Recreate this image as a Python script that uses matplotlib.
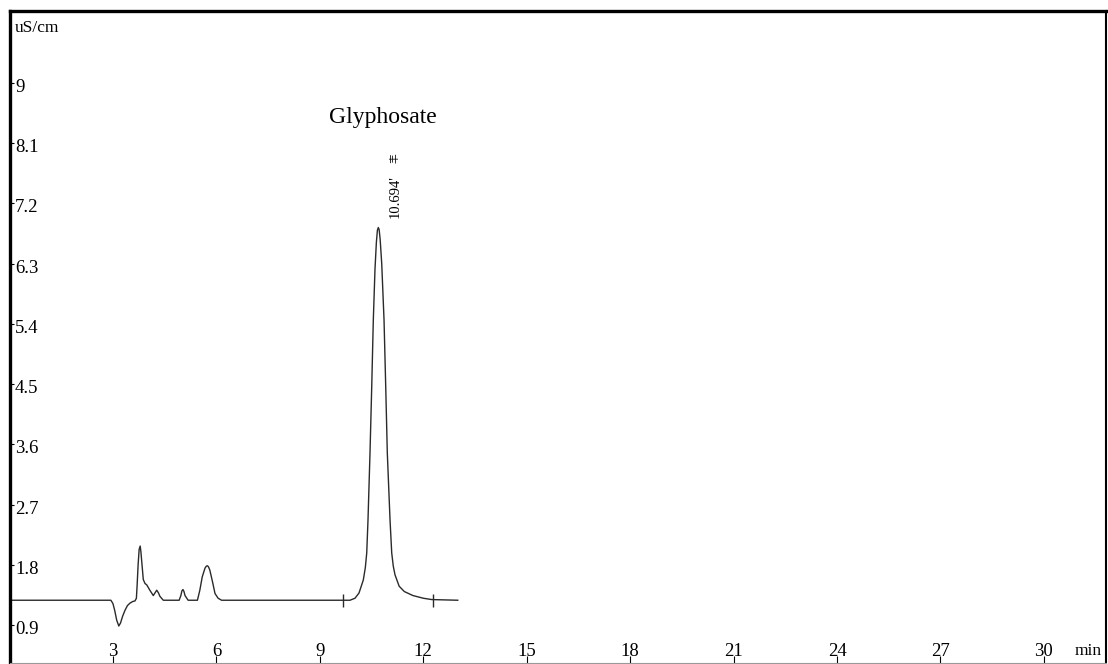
import matplotlib
matplotlib.use('Agg')
import matplotlib.pyplot as plt
from matplotlib.transforms import ScaledTranslation

# chromatogram trace (min, uS/cm)
time_min = [0.0, 2.94, 3.00, 3.05, 3.11, 3.17, 3.22, 3.28, 3.35, 3.42, 3.49, 3.57, 3.64,
            3.68, 3.70, 3.73, 3.76, 3.79, 3.81, 3.84, 3.88, 3.93, 3.98, 4.07, 4.17,
            4.22, 4.27, 4.32, 4.36, 4.46,
            4.92, 4.97, 5.00, 5.03, 5.06, 5.09, 5.18,
            5.45, 5.52, 5.59, 5.67, 5.71, 5.74, 5.77, 5.81, 5.89, 5.96, 6.05, 6.15,
            9.875, 10.02, 10.136, 10.261, 10.32, 10.36, 10.397, 10.455, 10.505, 10.551,
            10.60, 10.64, 10.67, 10.696, 10.72, 10.75, 10.795, 10.862, 10.911, 10.957,
            11.036, 11.085, 11.13, 11.18, 11.30, 11.45, 11.70, 12.0, 12.245, 13.0]
signal = [1.27, 1.27, 1.22, 1.12, 0.97, 0.885, 0.93, 1.03, 1.12, 1.19, 1.225, 1.25, 1.26,
          1.30, 1.48, 1.80, 2.03, 2.08, 2.00, 1.82, 1.58, 1.52, 1.50, 1.42, 1.34,
          1.38, 1.42, 1.38, 1.33, 1.27,
          1.27, 1.34, 1.41, 1.43, 1.40, 1.34, 1.27,
          1.27, 1.42, 1.62, 1.75, 1.78, 1.785, 1.77, 1.72, 1.54, 1.37, 1.30, 1.27,
          1.27, 1.30, 1.378, 1.572, 1.76, 1.976, 2.469, 3.47, 4.461, 5.458,
          6.22, 6.62, 6.80, 6.84, 6.81, 6.66, 6.30, 5.458, 4.461, 3.47,
          2.469, 1.976, 1.78, 1.65, 1.48, 1.40, 1.34, 1.30, 1.28, 1.27]

baseline_level = 1.27
integration_marks = [9.67, 12.28]
peak_time = 10.694
peak_name = 'Glyphosate'

x_ticks = [3, 6, 9, 12, 15, 18, 21, 24, 27, 30]
y_ticks = [0.9, 1.8, 2.7, 3.6, 4.5, 5.4, 6.3, 7.2, 8.1, 9]
y_tick_labels = ['0.9', '1.8', '2.7', '3.6', '4.5', '5.4', '6.3', '7.2', '8.1', '9']

serif = ['Liberation Serif', 'Noto Sans CJK SC']
plt.rcParams['font.family'] = serif

fig = plt.figure(figsize=(11.08, 6.64), dpi=100)
ax = fig.add_axes([9.5 / 1108, 1 / 664, 1096.5 / 1108, 652 / 664])

ax.plot(time_min, signal, color='#2a2a2a', lw=1.0)
ax.vlines(integration_marks, baseline_level - 0.1, baseline_level + 0.1,
          color='#2a2a2a', lw=1.0)

ax.set_xlim(0, 31.8)
ax.set_ylim(0.332, 10.076)

# spines like the instrument software
ax.spines['top'].set_linewidth(2.4)
ax.spines['left'].set_linewidth(2.4)
ax.spines['right'].set_linewidth(1.5)
ax.spines['bottom'].set_linewidth(0.8)
ax.spines['bottom'].set_color('#999999')

ax.set_xticks(x_ticks)
ax.set_xticklabels([str(t) for t in x_ticks])
ax.set_yticks(y_ticks)
ax.set_yticklabels(y_tick_labels)

ax.tick_params(axis='y', direction='in', length=3, width=0.8, pad=-4,
               labelsize=13.5)
ax.tick_params(axis='x', direction='in', length=5, width=0.8, pad=-2,
               labelsize=13.5)
for lab in ax.get_yticklabels():
    lab.set_horizontalalignment('left')
    lab.set_verticalalignment('center')
for tick in ax.yaxis.get_major_ticks():
    tick.label1.set_transform(tick.label1.get_transform()
                              + ScaledTranslation(0, -4.5 / 100, fig.dpi_scale_trans))
for lab in ax.get_xticklabels():
    lab.set_verticalalignment('bottom')

ax.text(0.0045, 0.974, 'uS/cm', transform=ax.transAxes, fontsize=12.5,
        ha='left', va='center')
ax.text(0.9836, 0.018, 'min', transform=ax.transAxes, fontsize=12.5,
        ha='center', va='center')

ax.text(10.83, 8.48, peak_name, fontsize=17, ha='center', va='center')
ax.text(11.18, 6.98, '{:.3f}\''.format(peak_time), rotation=90, fontsize=10.5,
        ha='center', va='bottom')
ax.text(11.18, 7.80, '丰', rotation=90, fontsize=7, ha='center', va='bottom',
        family=serif)

fig.savefig('out.png', dpi=100)
